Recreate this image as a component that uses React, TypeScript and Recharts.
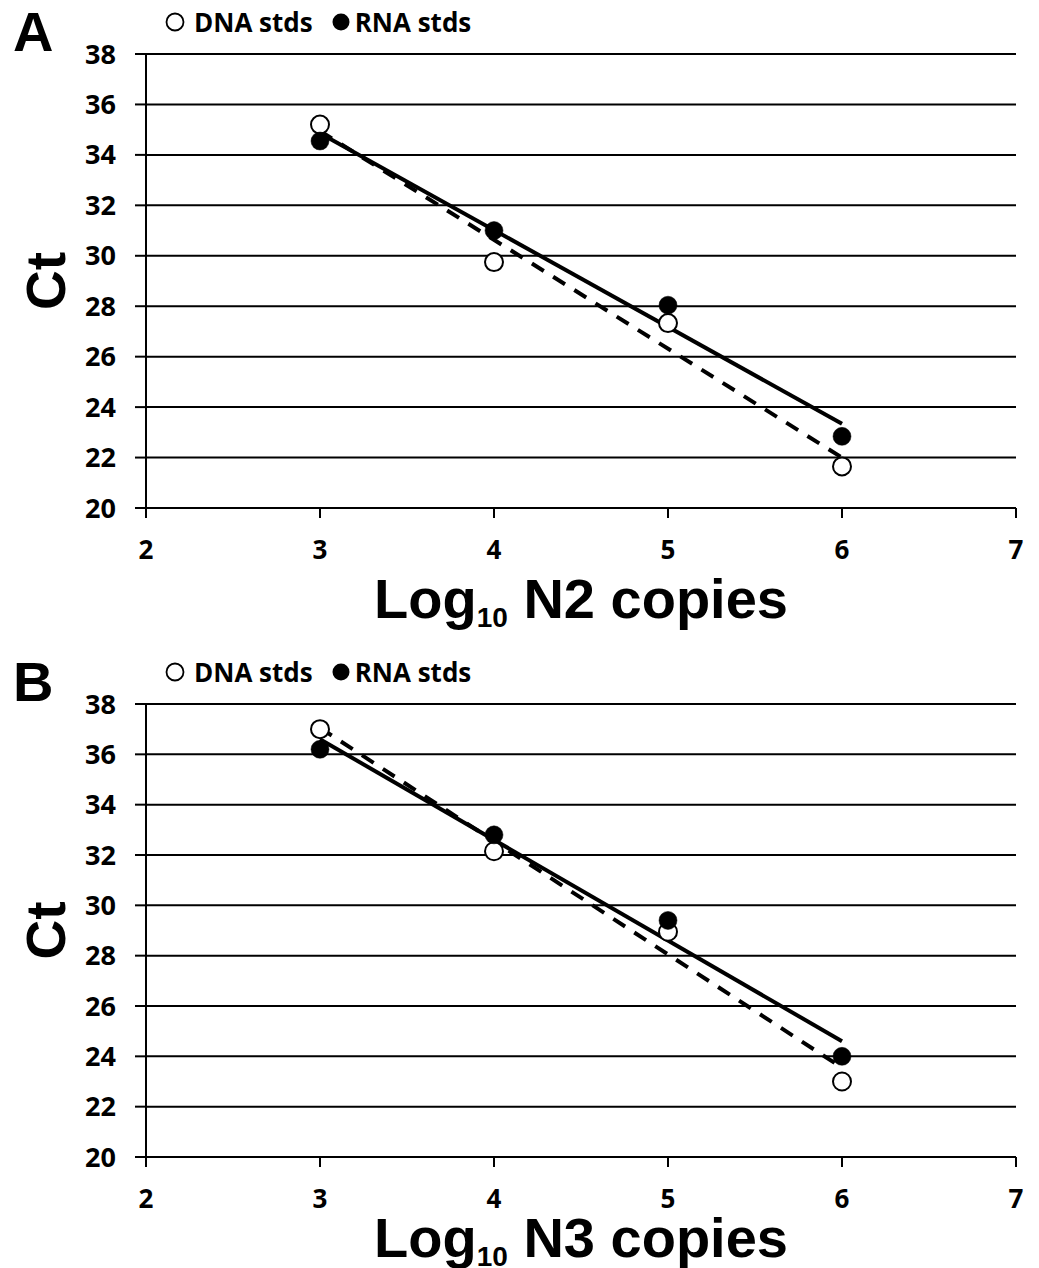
import React from 'react';
import { ComposedChart, Scatter, Line, XAxis, YAxis, CartesianGrid } from 'recharts';

// ---- data ----
const xTicks = [2, 3, 4, 5, 6, 7];
const yTicks = [20, 22, 24, 26, 28, 30, 32, 34, 36, 38];
const logCopies = [3, 4, 5, 6];
const fitX = [3, 6];

// Panel A (N2)
const dnaCtN2 = [35.2, 29.75, 27.33, 21.65];
const rnaCtN2 = [34.55, 31.0, 28.04, 22.84];
const dnaFitN2 = [34.95, 22.0];
const rnaFitN2 = [34.86, 23.34];

// Panel B (N3)
const dnaCtN3 = [37.0, 32.15, 28.95, 23.0];
const rnaCtN3 = [36.2, 32.8, 29.4, 24.0];
const dnaFitN3 = [37.05, 23.55];
const rnaFitN3 = [36.6, 24.6];

const legendLabels = ['DNA stds', 'RNA stds'];

const toPoints = (xs: number[], ys: number[]) => xs.map((x, i) => ({ x, y: ys[i] }));

const TICK_FONT = "'Open Sans', 'DejaVu Sans', sans-serif";
const TITLE_FONT = "'Liberation Sans', Arial, sans-serif";

const OpenDot = (props: any) => {
  const { cx, cy } = props;
  if (cx == null || cy == null) return null;
  return <circle cx={cx} cy={cy} r={9} fill="#fff" stroke="#000" strokeWidth={2} />;
};
const FilledDot = (props: any) => {
  const { cx, cy } = props;
  if (cx == null || cy == null) return null;
  return <circle cx={cx} cy={cy} r={9} fill="#000" stroke="#000" strokeWidth={0.5} />;
};

type PanelProps = {
  letter: string;
  top: number;
  height: number;
  marginBottom: number;
  dna: number[];
  rna: number[];
  dnaFit: number[];
  rnaFit: number[];
  target: string;
  xLabelBaseline: number;
};

const Panel = ({ letter, top, height, marginBottom, dna, rna, dnaFit, rnaFit, target, xLabelBaseline }: PanelProps) => {
  const dnaPts = toPoints(logCopies, dna);
  const rnaPts = toPoints(logCopies, rna);
  const dnaFitPts = toPoints(fitX, dnaFit);
  const rnaFitPts = toPoints(fitX, rnaFit);

  const xLabel = (p: any) => {
    const vb = p.viewBox || {};
    const cx = vb.x + vb.width / 2;
    return (
      <text x={cx} y={xLabelBaseline} textAnchor="middle" fontFamily={TITLE_FONT} fontWeight={700} fontSize={56} fill="#000">
        Log
        <tspan fontSize={28} dy={9}>10</tspan>
        <tspan dy={-9}>{' ' + target + ' copies'}</tspan>
      </text>
    );
  };

  const yLabel = (p: any) => {
    const vb = p.viewBox || {};
    const cy = vb.y + vb.height / 2;
    const x = 65;
    return (
      <text x={x} y={cy} transform={`rotate(-90 ${x} ${cy})`} textAnchor="middle" fontFamily={TITLE_FONT} fontWeight={700} fontSize={55} fill="#000">
        Ct
      </text>
    );
  };

  return (
    <div style={{ position: 'absolute', left: 0, top, width: 1039, height }}>
      <div
        style={{
          position: 'absolute', left: 13, top: 0, fontFamily: TITLE_FONT, fontWeight: 700,
          fontSize: 56, lineHeight: '64px', color: '#000',
        }}
      >
        {letter}
      </div>
      <div
        style={{
          position: 'absolute', left: 165, top: 6, display: 'flex', alignItems: 'center',
          fontFamily: TICK_FONT, fontWeight: 700, fontSize: 26, lineHeight: '32px', color: '#000',
        }}
      >
        <svg width={20} height={20} style={{ display: 'block' }}>
          <circle cx={10} cy={10} r={8.5} fill="#fff" stroke="#000" strokeWidth={1.8} />
        </svg>
        <span style={{ marginLeft: 9 }}>{legendLabels[0]}</span>
        <svg width={18} height={18} style={{ display: 'block', marginLeft: 19 }}>
          <circle cx={9} cy={9} r={8.5} fill="#000" />
        </svg>
        <span style={{ marginLeft: 5 }}>{legendLabels[1]}</span>
      </div>
      <div style={{ position: 'absolute', left: 0, top: 0 }}>
        <ComposedChart
          width={1039}
          height={height}
          margin={{ top: 54, right: 23, bottom: marginBottom, left: 66 }}
        >
          <CartesianGrid horizontal vertical={false} stroke="#000" strokeWidth={2} />
          <XAxis
            dataKey="x"
            type="number"
            domain={[2, 7]}
            ticks={xTicks}
            interval={0}
            height={60}
            axisLine={{ stroke: '#000', strokeWidth: 2 }}
            tickLine={{ stroke: '#000', strokeWidth: 2 }}
            tickSize={10}
            tickMargin={23}
            tick={{ fill: '#000', fontSize: 26, fontWeight: 700, fontFamily: TICK_FONT }}
            label={{ content: xLabel }}
          />
          <YAxis
            dataKey="y"
            type="number"
            domain={[20, 38]}
            ticks={yTicks}
            interval={0}
            width={80}
            axisLine={{ stroke: '#000', strokeWidth: 2 }}
            tickLine={{ stroke: '#000', strokeWidth: 2 }}
            tickSize={11}
            tickMargin={19}
            tick={{ fill: '#000', fontSize: 27, fontWeight: 700, fontFamily: TICK_FONT }}
            label={{ content: yLabel }}
          />
          <Scatter data={dnaPts} shape={OpenDot} isAnimationActive={false} />
          <Scatter data={rnaPts} shape={FilledDot} isAnimationActive={false} />
          <Line data={rnaFitPts} dataKey="y" type="linear" stroke="#000" strokeWidth={4} dot={false} activeDot={false} isAnimationActive={false} />
          <Line data={dnaFitPts} dataKey="y" type="linear" stroke="#000" strokeWidth={4} strokeDasharray="14 11" dot={false} activeDot={false} isAnimationActive={false} />
        </ComposedChart>
      </div>
    </div>
  );
};

export default function App() {
  return (
    <div style={{ position: 'absolute', left: 0, top: 0, width: 1039, height: 1268, background: '#fff' }}>
      <Panel
        letter="A"
        top={0}
        height={640}
        marginBottom={72}
        dna={dnaCtN2}
        rna={rnaCtN2}
        dnaFit={dnaFitN2}
        rnaFit={rnaFitN2}
        target="N2"
        xLabelBaseline={618}
      />
      <Panel
        letter="B"
        top={650}
        height={618}
        marginBottom={51}
        dna={dnaCtN3}
        rna={rnaCtN3}
        dnaFit={dnaFitN3}
        rnaFit={rnaFitN3}
        target="N3"
        xLabelBaseline={607}
      />
    </div>
  );
}
